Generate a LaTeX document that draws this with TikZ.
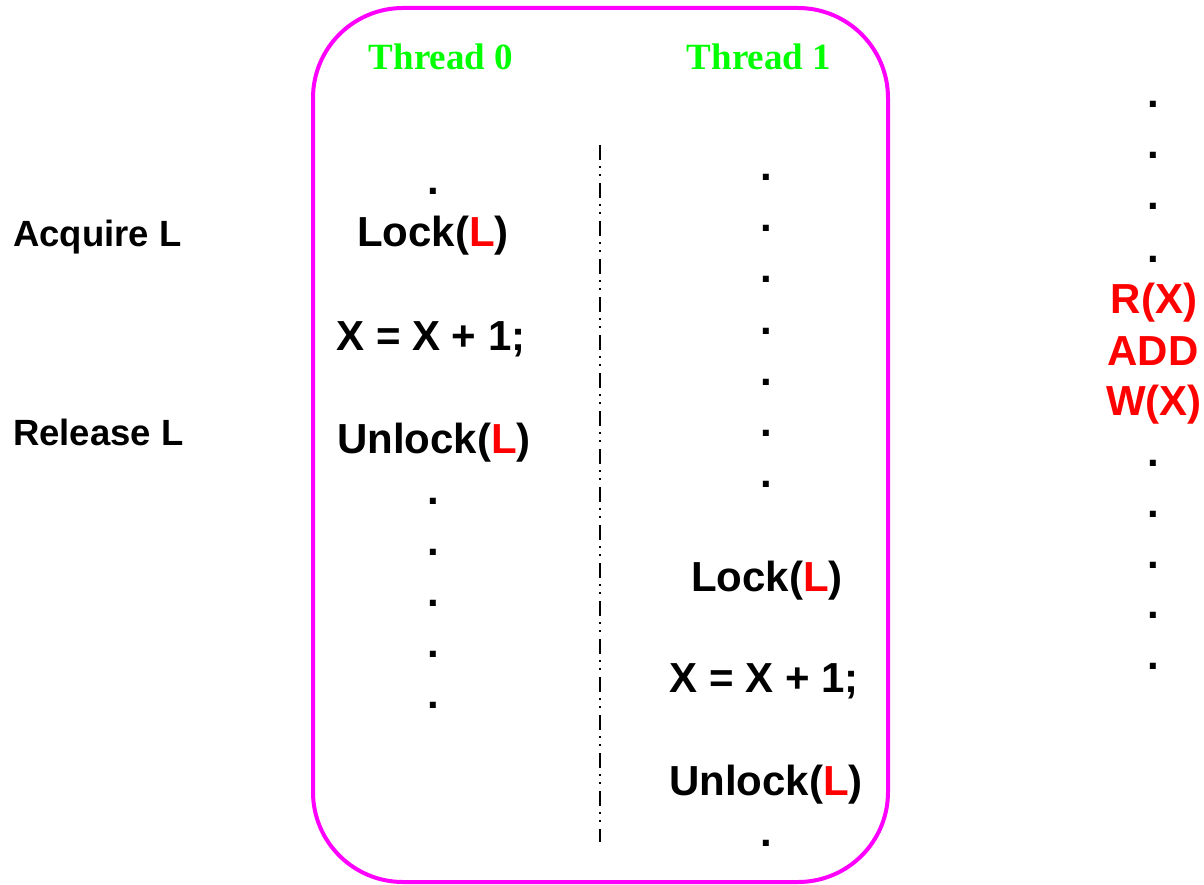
\documentclass[tikz,border=0pt]{standalone}
\usepackage{fontspec}
\usepackage{tikz}
\usepackage{xcolor}
\setmainfont{Liberation Sans}
\newfontfamily\headfont{Liberation Serif}
\definecolor{lockred}{HTML}{FF0000}
\definecolor{threadgreen}{HTML}{00FF00}
\definecolor{boxpink}{HTML}{FF00FF}
\tikzset{
    code/.style={anchor=base, inner sep=0pt, font=\fontsize{42}{48}\selectfont\bfseries},
    note/.style={anchor=base west, inner sep=0pt, font=\fontsize{36.5}{42}\selectfont\bfseries},
    head/.style={anchor=base, inner sep=0pt, text=threadgreen, font=\headfont\fontsize{37}{42}\selectfont\bfseries},
    asm/.style={code, text=lockred}
}
\newcommand{\lk}{\textcolor{lockred}{L}}
\newcommand{\gapdot}[3]{
    \node[code] (#1) at (#2, #3) {.};
}

\begin{document}
\begin{tikzpicture}[x=1pt, y=-1pt]
    \useasboundingbox (0, 0) rectangle (1204, 885);
    \draw[boxpink, line width=4pt, rounded corners=90pt] (313, 8) rectangle (888, 882);
    \node[head] (t0) at (441, 70) {Thread 0};
    \node[head] (t1) at (759, 70) {Thread 1};
    \coordinate (sep top) at (600, 145);
    \coordinate (sep bot) at (600, 842);
    \draw[line width=1.5pt, dash pattern=on 15pt off 6pt on 2pt off 6pt on 2pt off 7pt]
    (sep top) -- (sep bot);
    % thread 0
    \gapdot{a0}{433}{195}
    \node[code] (lock0) at (433, 247) {Lock(\lk)};
    \node[code] (inc0) at (431, 350) {X = X + 1;};
    \node[code] (unlock0) at (434, 453) {Unlock(\lk)};
    \gapdot{a1}{433}{504}
    \gapdot{a2}{433}{555}
    \gapdot{a3}{433}{606}
    \gapdot{a4}{433}{657}
    \gapdot{a5}{433}{708}
    \node[note] (acq) at (13, 247) {Acquire L};
    \node[note] (rel) at (13, 445) {Release L};
    % thread 1
    \gapdot{b0}{766}{181}
    \gapdot{b1}{766}{232}
    \gapdot{b2}{766}{283}
    \gapdot{b3}{766}{334}
    \gapdot{b4}{766}{385}
    \gapdot{b5}{766}{436}
    \gapdot{b6}{766}{487}
    \node[code] (lock1) at (767, 591) {Lock(\lk)};
    \node[code] (inc1) at (764, 692) {X = X + 1;};
    \node[code] (unlock1) at (766, 795) {Unlock(\lk)};
    \gapdot{b7}{766}{846}
    % instruction stream
    \gapdot{c0}{1153}{108}
    \gapdot{c1}{1153}{159}
    \gapdot{c2}{1153}{210}
    \gapdot{c3}{1153}{262}
    \node[asm] (rd) at (1154, 313) {R(X)};
    \node[asm] (add) at (1153, 365) {ADD};
    \node[asm] (wr) at (1154, 415) {W(X)};
    \gapdot{c4}{1153}{466}
    \gapdot{c5}{1153}{517}
    \gapdot{c6}{1153}{568}
    \gapdot{c7}{1153}{618}
    \gapdot{c8}{1153}{669}
\end{tikzpicture}
\end{document}
